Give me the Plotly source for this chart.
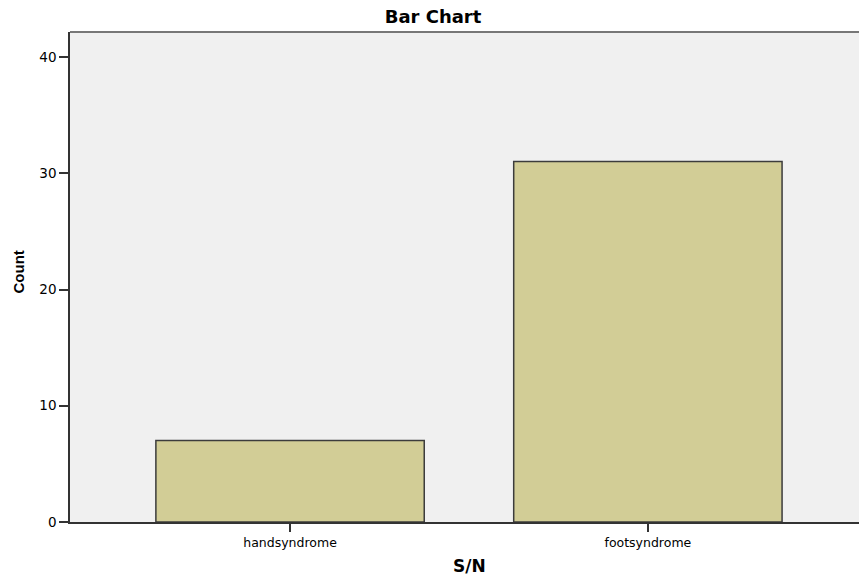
import plotly.graph_objects as go

categories = ["handsyndrome", "footsyndrome"]
counts = [7, 31]
y_ticks = [0, 10, 20, 30, 40]

W, H = 859, 577
L, R, T, B = 70, 0, 32, 55
pw, ph = W - L - R, H - T - B

fig = go.Figure()
fig.add_trace(go.Bar(
    x=categories, y=counts, width=0.75,
    marker=dict(color="#d2cd96", line=dict(color="#3c3c3c", width=1.5)),
))

fig.update_layout(
    width=W, height=H,
    margin=dict(l=L, r=R, t=T, b=B),
    paper_bgcolor="white", plot_bgcolor="#f0f0f0",
    font=dict(family="DejaVu Sans, sans-serif", color="#000"),
    title=dict(text="<b>Bar Chart</b>", x=433/W, xanchor="center",
               y=1 - 16.5/H, yanchor="middle", yref="container",
               font=dict(size=18)),
    showlegend=False,
)
fig.update_xaxes(
    range=[-0.615, 1.59], showgrid=False, showline=True, linecolor="#333",
    linewidth=1.5, ticks="outside", ticklen=8, tickcolor="#333", tickwidth=1.5,
    tickfont=dict(size=12.5),
)
fig.update_yaxes(
    range=[0, 42.15], tickvals=y_ticks, showgrid=False, zeroline=False,
    showline=True, linecolor="#333", linewidth=1.5, ticks="outside",
    ticklen=9, tickcolor="#333", tickwidth=1.5, tickfont=dict(size=13.5),
)
fig.add_shape(type="line", xref="paper", yref="paper", x0=0, x1=1, y0=1, y1=1,
              line=dict(color="#777", width=2))
fig.add_annotation(text="<b>S/N</b>", xref="paper", yref="paper",
                   x=(469 - L) / pw, y=(H - B - 566) / ph,
                   xanchor="center", yanchor="middle", showarrow=False,
                   font=dict(size=17))
fig.add_annotation(text="<b>Count</b>", xref="paper", yref="paper",
                   x=(17.5 - L) / pw, y=(H - B - 272) / ph, textangle=-90,
                   xanchor="center", yanchor="middle", showarrow=False,
                   font=dict(size=15, family="Liberation Sans, Arial, sans-serif"))

fig.write_html("out.html", config={"displayModeBar": False},
               post_script="document.body.style.margin='0';document.body.style.padding='0';")
